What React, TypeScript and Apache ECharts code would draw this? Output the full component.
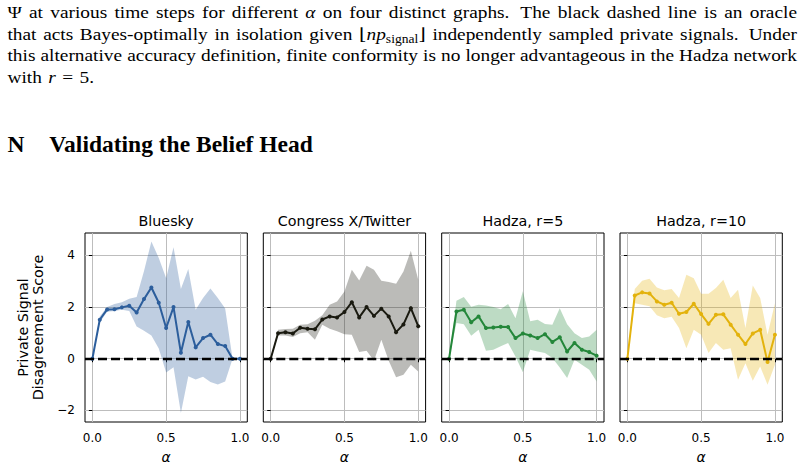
import React, { useEffect, useRef } from 'react';
import * as echarts from 'echarts';

// ---------- data ----------
const ALPHA = [0, 0.05, 0.1, 0.15, 0.2, 0.25, 0.3, 0.35, 0.4, 0.45, 0.5, 0.55, 0.6, 0.65, 0.7, 0.75, 0.8, 0.85, 0.9, 0.95, 1.0];
const X_TICKS = [0, 0.5, 1.0];
const Y_TICKS = [-2, 0, 2, 4];
const ORACLE = 0;

const PANEL_TITLES = ['Bluesky', 'Congress X/Twitter', 'Hadza, r=5', 'Hadza, r=10'];

const BLUESKY_MEAN = [0, 1.51, 1.91, 1.92, 1.99, 2.05, 1.79, 2.31, 2.76, 2.17, 1.19, 2.0, 0.23, 1.42, 0.44, 0.8, 0.93, 0.57, 0.49, 0, 0];
const BLUESKY_UPPER = [0, 1.64, 2.0, 2.12, 2.19, 2.32, 2.39, 3.4, 4.54, 3.9, 3.12, 4.32, 2.7, 3.48, 1.9, 2.35, 2.72, 2.35, 1.95, 0, 0];
const BLUESKY_LOWER = [0, 1.4, 1.82, 1.85, 1.9, 1.85, 1.25, 1.08, 0.9, 0.4, -0.53, -0.33, -2.1, -0.68, -0.8, -0.7, -0.9, -1.0, -0.88, 0, 0];

const CONGRESS_MEAN = [0, 0.99, 1.03, 0.98, 1.2, 1.16, 1.14, 1.52, 1.64, 1.6, 1.81, 2.19, 1.6, 2.0, 1.66, 1.94, 1.64, 1.03, 1.33, 1.96, 1.26];
const CONGRESS_UPPER = [0, 1.12, 1.15, 1.16, 1.32, 1.34, 1.47, 1.68, 2.09, 2.22, 2.6, 3.45, 3.03, 3.6, 3.45, 3.02, 2.97, 2.9, 3.38, 4.18, 3.06];
const CONGRESS_LOWER = [0, 0.9, 0.9, 0.84, 0.99, 1.03, 0.74, 1.32, 1.16, 1.06, 0.95, 0.93, 0.26, 0.31, -0.08, 0.74, -0.08, -0.72, -0.62, -0.23, -0.49];

const HADZA5_MEAN = [0, 1.83, 1.9, 1.41, 1.64, 1.19, 1.21, 1.24, 1.23, 0.8, 0.98, 0.9, 0.8, 0.95, 0.65, 0.83, 0.28, 0.61, 0.35, 0.26, 0.12];
const HADZA5_UPPER = [0, 2.25, 2.39, 2.01, 2.09, 2.06, 2.0, 1.92, 2.12, 1.57, 2.61, 1.45, 1.51, 1.35, 1.32, 1.96, 1.34, 0.99, 0.8, 0.86, 1.12];
const HADZA5_LOWER = [0, 1.38, 1.34, 0.89, 1.12, 0.31, 0.35, 0.48, 0.61, 0.09, -0.52, 0.35, 0.28, 0.22, 0.03, -0.34, -0.75, -0.04, -0.23, -0.43, -0.88];

const HADZA10_MEAN = [0, 2.45, 2.57, 2.53, 2.22, 2.09, 2.17, 1.74, 1.81, 2.13, 1.73, 1.35, 1.7, 1.72, 1.32, 0.93, 0.57, 0.98, 1.12, -0.13, 0.93];
const HADZA10_UPPER = [0, 2.7, 3.02, 3.1, 2.76, 2.65, 2.7, 2.35, 3.25, 3.12, 2.52, 2.52, 2.74, 3.06, 2.35, 2.67, 1.19, 2.84, 2.35, 0.93, 2.15];
const HADZA10_LOWER = [0, 2.15, 2.09, 2.03, 1.68, 1.57, 1.63, 1.19, 0.41, 1.12, 0.93, 0.22, 0.61, 0.35, 0.41, -0.81, -0.17, -0.85, -0.3, -1.01, -0.23];

const PANEL_MEANS = [BLUESKY_MEAN, CONGRESS_MEAN, HADZA5_MEAN, HADZA10_MEAN];
const PANEL_UPPERS = [BLUESKY_UPPER, CONGRESS_UPPER, HADZA5_UPPER, HADZA10_UPPER];
const PANEL_LOWERS = [BLUESKY_LOWER, CONGRESS_LOWER, HADZA5_LOWER, HADZA10_LOWER];

const BODY_LINES = [
  'Ψ at various time steps for different {i|α} on four distinct graphs. The black dashed line is an oracle',
  'that acts Bayes-optimally in isolation given ⌊{i|np}{s|signal}⌋ independently sampled private signals. Under',
  'this alternative accuracy definition, finite conformity is no longer advantageous in the Hadza network',
  'with {i|r} = 5.',
];
const HEADING_NUM = 'N';
const HEADING_TEXT = 'Validating the Belief Head';
const Y_LABEL = 'Private Signal\nDisagreement Score';
const X_LABEL = 'α';

// ---------- styles ----------
const LINE_COLORS = ['#2c5e9c', '#1a1a10', '#24873a', '#e3b20c'];
const BAND_COLORS = ['rgba(44,94,156,0.3)', 'rgba(30,30,20,0.3)', 'rgba(36,135,58,0.3)', 'rgba(227,178,12,0.3)'];
const SERIF = '"Liberation Serif", "Times New Roman", "DejaVu Serif", serif';
const SANS = '"DejaVu Sans", sans-serif';

const PANEL_LEFTS = [85, 263.3, 441.7, 620];
const PANEL_W = 162.3;
const PANEL_TOP = 233;
const PANEL_H = 189;

function buildTextGraphics(): any[] {
  const ctx = document.createElement('canvas').getContext('2d') as CanvasRenderingContext2D;
  const measure = (t: string, style: string, weight: string, size: number) => {
    ctx.font = `${style} ${weight} ${size}px ${SERIF}`;
    return ctx.measureText(t).width;
  };
  const FS = 16.5;
  const LEFT = 7.5;
  const RIGHT = 797;
  const BASELINES = [18.3, 39.9, 61.5, 83.0];
  const out: any[] = [];

  // horizontal stretch of the body face, taken from the width of "with" in the last line
  const withW = measure('with', 'normal', 'normal', FS);
  let sx = withW > 0 ? 34.4 / withW : 1.15;
  sx = Math.max(0.9, Math.min(1.35, sx));

  const parseWord = (w: string) => {
    const segs: { k: string; t: string }[] = [];
    const re = /\{(\w)\|([^}]*)\}|([^{]+)/g;
    let m: RegExpExecArray | null;
    while ((m = re.exec(w))) {
      if (m[3]) segs.push({ k: 'n', t: m[3] });
      else segs.push({ k: m[1], t: m[2] });
    }
    return segs;
  };
  const segInfo = (k: string) => {
    if (k === 'i') return { style: 'italic', size: FS, dy: 0 };
    if (k === 's') return { style: 'normal', size: FS * 0.7, dy: 3.6 };
    return { style: 'normal', size: FS, dy: 0 };
  };

  BODY_LINES.forEach((line, li) => {
    const words = line.split(' ').map(parseWord);
    const widths = words.map((segs) =>
      segs.reduce((s, g) => {
        const inf = segInfo(g.k);
        return s + sx * measure(g.t, inf.style, 'normal', inf.size);
      }, 0)
    );
    const total = widths.reduce((a, b) => a + b, 0);
    const weights = words.slice(0, -1).map((segs) => {
      const last = segs[segs.length - 1].t;
      return last.endsWith('.') ? 1.5 : 1;
    });
    const sumW = weights.reduce((a, b) => a + b, 0);
    const isLast = li === BODY_LINES.length - 1;
    const unit = isLast ? FS * 0.33 * sx : (RIGHT - LEFT - total) / sumW;
    let x = LEFT;
    words.forEach((segs, wi) => {
      segs.forEach((g) => {
        const inf = segInfo(g.k);
        out.push({
          type: 'text',
          x,
          y: BASELINES[li] + inf.dy - 0.3375 * inf.size,
          scaleX: sx,
          silent: true,
          style: {
            text: g.t,
            fontSize: inf.size,
            fontFamily: SERIF,
            fontStyle: inf.style,
            fontWeight: 'normal',
            fill: '#000',
            align: 'left',
            verticalAlign: 'middle',
          },
        });
        x += sx * measure(g.t, inf.style, 'normal', inf.size);
      });
      if (wi < weights.length) x += unit * weights[wi];
    });
  });

  // heading
  const base = 23.5;
  const natural = measure(HEADING_TEXT, 'normal', 'bold', base);
  let hs = natural > 0 ? (base * 263.7) / natural : base;
  hs = Math.max(20, Math.min(26, hs));
  const hBase = 151.7;
  [
    { t: HEADING_NUM, x: 7.5 },
    { t: HEADING_TEXT, x: 49.3 },
  ].forEach((h) => {
    out.push({
      type: 'text',
      x: h.x,
      y: hBase - 0.3375 * hs,
      silent: true,
      style: {
        text: h.t,
        fontSize: hs,
        fontFamily: SERIF,
        fontWeight: 'bold',
        fill: '#000',
        align: 'left',
        verticalAlign: 'middle',
      },
    });
  });

  // panel titles and x labels
  PANEL_TITLES.forEach((t, k) => {
    out.push({
      type: 'text',
      x: PANEL_LEFTS[k] + PANEL_W / 2,
      y: 221,
      silent: true,
      style: { text: t, fontSize: 14.3, fontFamily: SANS, fill: '#000', align: 'center', verticalAlign: 'middle' },
    });
    out.push({
      type: 'text',
      x: PANEL_LEFTS[k] + PANEL_W / 2,
      y: 456.5,
      silent: true,
      style: { text: X_LABEL, fontSize: 14, fontFamily: SANS, fontStyle: 'italic', fill: '#000', align: 'center', verticalAlign: 'middle' },
    });
  });

  // y label
  out.push({
    type: 'text',
    x: 30.5,
    y: PANEL_TOP + PANEL_H / 2,
    rotation: Math.PI / 2,
    silent: true,
    style: {
      text: Y_LABEL,
      fontSize: 14.3,
      lineHeight: 15.5,
      fontFamily: SANS,
      fill: '#000',
      align: 'center',
      verticalAlign: 'middle',
    },
  });
  return out;
}

export default function App() {
  const ref = useRef<HTMLDivElement>(null);
  useEffect(() => {
    if (!ref.current) return;
    const chart = echarts.init(ref.current, undefined, { renderer: 'svg' });

    const grids = PANEL_LEFTS.map((left) => ({
      left,
      top: PANEL_TOP,
      width: PANEL_W,
      height: PANEL_H,
      show: true,
      borderColor: '#000',
      borderWidth: 1,
      backgroundColor: 'transparent',
      containLabel: false,
      outerBoundsMode: 'none',
    }));

    const xAxes = PANEL_LEFTS.map((_, k) => ({
      type: 'value',
      gridIndex: k,
      min: -0.05,
      max: 1.05,
      axisLine: { show: false },
      axisTick: { show: true, length: 3.5, inside: false, customValues: X_TICKS, lineStyle: { color: '#000', width: 1 } },
      axisLabel: {
        show: true,
        customValues: X_TICKS,
        margin: 10,
        fontSize: 12,
        fontFamily: SANS,
        color: '#000',
        formatter: (v: number) => v.toFixed(1),
      },
      splitLine: { show: true, lineStyle: { color: '#bdbdbd', width: 1 } },
    }));

    const yAxes = PANEL_LEFTS.map((_, k) => ({
      type: 'value',
      gridIndex: k,
      min: -2.45,
      max: 4.87,
      axisLine: { show: false },
      axisTick: { show: true, length: 3.5, inside: false, customValues: Y_TICKS, lineStyle: { color: '#000', width: 1 } },
      axisLabel: {
        show: k === 0,
        customValues: Y_TICKS,
        margin: 10,
        fontSize: 12,
        fontFamily: SANS,
        color: '#000',
        formatter: (v: number) => (v < 0 ? '\u2212' + Math.abs(v) : String(v)),
      },
      splitLine: { show: true, lineStyle: { color: '#bdbdbd', width: 1 } },
    }));

    const series: any[] = [];
    PANEL_MEANS.forEach((mean, k) => {
      const upper = PANEL_UPPERS[k];
      const lower = PANEL_LOWERS[k];
      series.push({
        type: 'custom',
        xAxisIndex: k,
        yAxisIndex: k,
        silent: true,
        z: 1,
        data: ALPHA.map((a, i) => [a, mean[i]]),
        encode: { x: 0, y: 1 },
        renderItem: (params: any, api: any) => {
          if (params.dataIndex !== 0) return null;
          const pts: number[][] = [];
          for (let i = 0; i < ALPHA.length; i++) pts.push(api.coord([ALPHA[i], upper[i]]));
          for (let i = ALPHA.length - 1; i >= 0; i--) pts.push(api.coord([ALPHA[i], lower[i]]));
          return { type: 'polygon', shape: { points: pts }, style: { fill: BAND_COLORS[k] } };
        },
      });
      series.push({
        type: 'line',
        xAxisIndex: k,
        yAxisIndex: k,
        silent: true,
        z: 3,
        data: ALPHA.map((a, i) => [a, mean[i]]),
        symbol: 'circle',
        symbolSize: 4,
        showSymbol: true,
        lineStyle: { color: LINE_COLORS[k], width: 2 },
        itemStyle: { color: LINE_COLORS[k] },
        markLine: {
          silent: true,
          symbol: ['none', 'none'],
          label: { show: false },
          lineStyle: { color: '#000', width: 2.3, type: [9, 4] },
          data: [{ yAxis: ORACLE }],
          z: 5,
        },
      });
    });

    chart.setOption({
      animation: false,
      backgroundColor: '#fff',
      grid: grids,
      xAxis: xAxes,
      yAxis: yAxes,
      series,
      graphic: buildTextGraphics(),
    });
    return () => chart.dispose();
  }, []);
  return <div ref={ref} style={{ position: 'absolute', left: 0, top: 0, width: 805, height: 470 }} />;
}
